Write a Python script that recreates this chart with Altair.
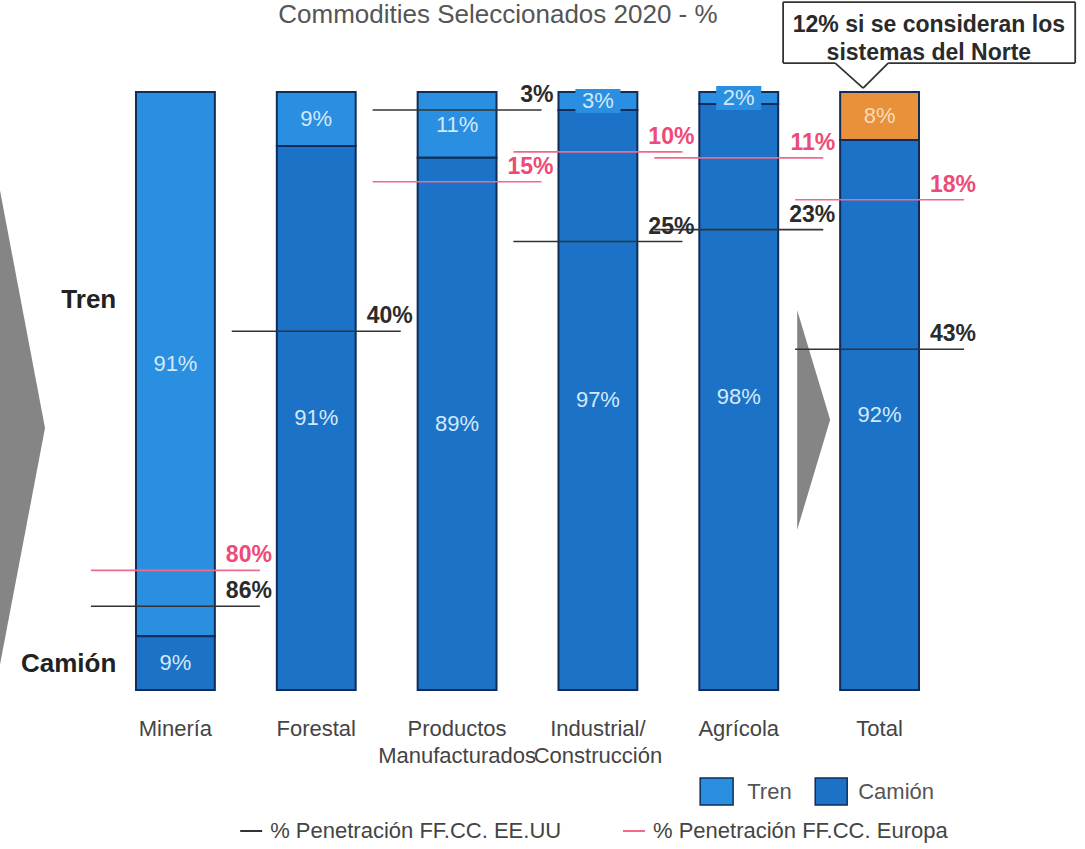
import altair as alt
import pandas as pd

# ---------------- data ----------------
categories = ["Minería", "Forestal", "Productos", "Industrial/", "Agrícola", "Total"]
categories_line2 = ["", "", "Manufacturados", "Construcción", "", ""]
camion = [9, 91, 89, 97, 98, 92]
tren = [91, 9, 11, 3, 2, 8]
pen_us = [86, 40, 3, 25, 23, 43]
pen_eu = [80, None, 15, 10, 11, 18]
series_us = "% Penetración FF.CC. EE.UU"
series_eu = "% Penetración FF.CC. Europa"
title_text = "Commodities Seleccionados 2020 - %"
callout_lines = ["12% si se consideran los", "sistemas del Norte"]

NAVY = "#0f2d58"
TREN_C = "#2a8fe0"
CAMION_C = "#1b72c6"
ORANGE = "#e8913a"
GRAY = "#858585"
PINK_LINE = "#f06a8c"
PINK_TEXT = "#ee4a78"
FONT = "Liberation Sans"

# ---------------- tables ----------------
rows = []
for i in range(len(categories)):
    rows.append(dict(idx=i, key="Camión", y0=0, y1=camion[i], val=camion[i]))
    rows.append(dict(idx=i, key="Tren", y0=camion[i], y1=camion[i] + tren[i], val=tren[i]))
bars_df = pd.DataFrame(rows)
bars_df["xa"] = bars_df["idx"] - 0.28
bars_df["xb"] = bars_df["idx"] + 0.28
bars_df["ym"] = (bars_df["y0"] + bars_df["y1"]) / 2
bars_df["lbl"] = bars_df["val"].astype(str) + "%"
last = len(categories) - 1
is_norte = (bars_df["idx"] == last) & (bars_df["key"] == "Tren")
main_df = bars_df[~is_norte]
norte_df = bars_df[is_norte]
tren_df = main_df[main_df["key"] == "Tren"]
camion_df = main_df[main_df["key"] == "Camión"]

prow = []
for i in range(len(categories)):
    if pen_us[i] is not None:
        prow.append(dict(idx=i, val=pen_us[i], serie=series_us))
    if pen_eu[i] is not None:
        prow.append(dict(idx=i, val=pen_eu[i], serie=series_eu))
pen_df = pd.DataFrame(prow)
pen_df["ypos"] = 100 - pen_df["val"]
pen_df["xa"] = pen_df["idx"] - 0.6
pen_df["xb"] = pen_df["idx"] + 0.6
pen_df["lbl"] = pen_df["val"].astype(str) + "%"
us_df = pen_df[pen_df["serie"] == series_us]
eu_df = pen_df[pen_df["serie"] == series_eu]

xscale = alt.Scale(domain=[-0.5, 5.5], nice=False, zero=False)
yscale = alt.Scale(domain=[0, 115.4], nice=False, zero=False)


def X(f):
    return alt.X(f, scale=xscale, axis=None)


def Y(f):
    return alt.Y(f, scale=yscale, axis=None)


xaxis = alt.Axis(
    values=[i - 0.5 for i in range(len(categories) + 1)], labels=False, title=None, grid=False,
    domainColor="#444", domainWidth=2, tickColor="#444", tickWidth=2, tickSize=8,
)

bars_tren = alt.Chart(tren_df).mark_rect(stroke=NAVY, strokeWidth=2, fill=TREN_C).encode(
    x=alt.X("xa:Q", scale=xscale, axis=xaxis), x2="xb:Q",
    y=Y("y0:Q"), y2="y1:Q")
bars_camion = alt.Chart(camion_df).mark_rect(stroke=NAVY, strokeWidth=2, fill=CAMION_C).encode(
    x=X("xa:Q"), x2="xb:Q", y=Y("y0:Q"), y2="y1:Q")
norte = alt.Chart(norte_df).mark_rect(stroke=NAVY, strokeWidth=2, fill=ORANGE).encode(
    x=X("xa:Q"), x2="xb:Q", y=Y("y0:Q"), y2="y1:Q")

# category labels (two text rows)
cat_df = pd.DataFrame({"idx": list(range(len(categories))), "l1": categories,
                       "l2": categories_line2})
cat_df["y1"] = -6.6
cat_df["y2"] = -11.1
cat1 = alt.Chart(cat_df).mark_text(font=FONT, fontSize=22, color="#444", align="center",
                                   baseline="middle").encode(x=X("idx:Q"), y=Y("y1:Q"), text="l1:N")
cat2 = alt.Chart(cat_df).mark_text(font=FONT, fontSize=22, color="#444", align="center",
                                   baseline="middle").encode(x=X("idx:Q"), y=Y("y2:Q"), text="l2:N")

# light boxes behind labels of very thin segments
small = bars_df[bars_df["val"] < 5].copy()
small["bxa"] = small["idx"] - 0.16
small["bxb"] = small["idx"] + 0.16
small["bya"] = small["ym"] - 2.0
small["byb"] = small["ym"] + 2.0
small_bg = alt.Chart(small).mark_rect(fill=TREN_C).encode(
    x=X("bxa:Q"), x2="bxb:Q", y=Y("bya:Q"), y2="byb:Q")

bar_text = alt.Chart(main_df).mark_text(
    font=FONT, fontSize=22, baseline="middle", align="center", color="#d3e9fb",
).encode(x=X("idx:Q"), y=Y("ym:Q"), text="lbl:N")
norte_text = alt.Chart(norte_df).mark_text(
    font=FONT, fontSize=22, baseline="middle", align="center", color="#f8dcb8",
).encode(x=X("idx:Q"), y=Y("ym:Q"), text="lbl:N")

rules_us = alt.Chart(us_df).mark_rule(strokeWidth=1.6, color="#333333").encode(
    x=X("xa:Q"), x2="xb:Q", y=Y("ypos:Q"))
rules_eu = alt.Chart(eu_df).mark_rule(strokeWidth=1.6, color=PINK_LINE).encode(
    x=X("xa:Q"), x2="xb:Q", y=Y("ypos:Q"))
text_us = alt.Chart(us_df).mark_text(
    font=FONT, fontSize=23, fontWeight="bold", align="right", baseline="bottom", dy=-3, dx=12,
    color="#2b2b2b").encode(x=X("xb:Q"), y=Y("ypos:Q"), text="lbl:N")
text_eu = alt.Chart(eu_df).mark_text(
    font=FONT, fontSize=23, fontWeight="bold", align="right", baseline="bottom", dy=-3, dx=12,
    color=PINK_TEXT).encode(x=X("xb:Q"), y=Y("ypos:Q"), text="lbl:N")

# side labels
side_df = pd.DataFrame({"txt": ["Tren", "Camión"], "x": [-0.42, -0.42], "y": [65.2, 4.3]})
side = alt.Chart(side_df).mark_text(
    font=FONT, fontSize=26, fontWeight="bold", align="right", baseline="middle", color="#222",
).encode(x=X("x:Q"), y=Y("y:Q"), text="txt:N")

# grey arrow decorations (triangles pointing right)
left_tri = pd.DataFrame({"y": [83.6, 43.8, 4.2], "x": [-1.246, -0.926, -1.246], "x0": [-1.246] * 3})
mid_tri = pd.DataFrame({"y": [63.5, 45.2, 26.8], "x": [4.415, 4.649, 4.415], "x0": [4.415] * 3})
deco_left = alt.Chart(left_tri).mark_area(orient="horizontal", color=GRAY, opacity=1).encode(
    y=Y("y:Q"), x=X("x:Q"), x2="x0:Q")
deco_mid = alt.Chart(mid_tri).mark_area(orient="horizontal", color=GRAY, opacity=1).encode(
    y=Y("y:Q"), x=X("x:Q"), x2="x0:Q")

# title
title_df = pd.DataFrame({"t": [title_text], "x": [2.29], "y": [111.6]})
title = alt.Chart(title_df).mark_text(
    font=FONT, fontSize=26, color="#555", align="center", baseline="alphabetic",
).encode(x=X("x:Q"), y=Y("y:Q"), text="t:N")

# callout box
box_df = pd.DataFrame({"xa": [4.315], "xb": [6.389], "ya": [104.85], "yb": [115.05]})
box = alt.Chart(box_df).mark_rect(fill="white").encode(
    x=X("xa:Q"), x2="xb:Q", y=Y("ya:Q"), y2="yb:Q")
seg_df = pd.DataFrame({
    "xa": [4.685, 4.315, 4.315, 6.389, 6.389, 5.061, 4.883],
    "ya": [104.85, 104.85, 115.05, 115.05, 104.85, 104.85, 100.67],
    "xb": [4.315, 4.315, 6.389, 6.389, 5.061, 4.883, 4.685],
    "yb": [104.85, 115.05, 115.05, 104.85, 104.85, 100.67, 104.85],
})
outline = alt.Chart(seg_df).mark_rule(color="#333", strokeWidth=1.8).encode(
    x=X("xa:Q"), y=Y("ya:Q"), x2="xb:Q", y2="yb:Q")
ctext_df = pd.DataFrame({"t": callout_lines, "x": [5.35, 5.35], "y": [111.3, 106.6]})
ctext = alt.Chart(ctext_df).mark_text(
    font=FONT, fontSize=23, fontWeight="bold", color="#2a2a2a", align="center", baseline="middle",
).encode(x=X("x:Q"), y=Y("y:Q"), text="t:N")

# manual legends
sq_df = pd.DataFrame({"xa": [3.726, 4.543], "xb": [3.960, 4.770], "ya": [-14.72] * 2,
                      "yb": [-19.23] * 2, "k": ["Tren", "Camión"]})
leg_sq_t = alt.Chart(sq_df[sq_df["k"] == "Tren"]).mark_rect(fill=TREN_C, stroke=NAVY, strokeWidth=1.5).encode(
    x=X("xa:Q"), x2="xb:Q", y=Y("ya:Q"), y2="yb:Q")
leg_sq_c = alt.Chart(sq_df[sq_df["k"] == "Camión"]).mark_rect(fill=CAMION_C, stroke=NAVY, strokeWidth=1.5).encode(
    x=X("xa:Q"), x2="xb:Q", y=Y("ya:Q"), y2="yb:Q")
leg1_txt = pd.DataFrame({"t": ["Tren", "Camión"], "x": [4.06, 4.848], "y": [-17.06] * 2})
leg1 = alt.Chart(leg1_txt).mark_text(font=FONT, fontSize=22, color="#555", align="left",
                                     baseline="middle").encode(x=X("x:Q"), y=Y("y:Q"), text="t:N")
line_df = pd.DataFrame({"xa": [0.460, 3.178], "xb": [0.616, 3.334], "y": [-23.58] * 2,
                        "s": [series_us, series_eu]})
leg_l_us = alt.Chart(line_df[line_df["s"] == series_us]).mark_rule(color="#333333", strokeWidth=2).encode(
    x=X("xa:Q"), x2="xb:Q", y=Y("y:Q"))
leg_l_eu = alt.Chart(line_df[line_df["s"] == series_eu]).mark_rule(color=PINK_LINE, strokeWidth=2).encode(
    x=X("xa:Q"), x2="xb:Q", y=Y("y:Q"))
leg2_txt = pd.DataFrame({"t": [series_us, series_eu], "x": [0.673, 3.391], "y": [-23.58] * 2})
leg2 = alt.Chart(leg2_txt).mark_text(font=FONT, fontSize=22, color="#444", align="left",
                                     baseline="middle").encode(x=X("x:Q"), y=Y("y:Q"), text="t:N")

chart = alt.layer(
    bars_tren, deco_left, deco_mid, bars_camion, norte, small_bg, bar_text, norte_text,
    rules_us, rules_eu, text_us, text_eu, side, cat1, cat2, title, box, outline, ctext,
    leg_sq_t, leg_sq_c, leg1, leg_l_us, leg_l_eu, leg2,
).properties(
    width=845, height=690,
    padding={"left": 105, "top": 0, "right": 135, "bottom": 159},
    autosize=alt.AutoSizeParams(type="none"),
    background="white",
).configure_view(stroke=None)

chart.save("out.html", embed_options={"renderer": "svg", "actions": False})
